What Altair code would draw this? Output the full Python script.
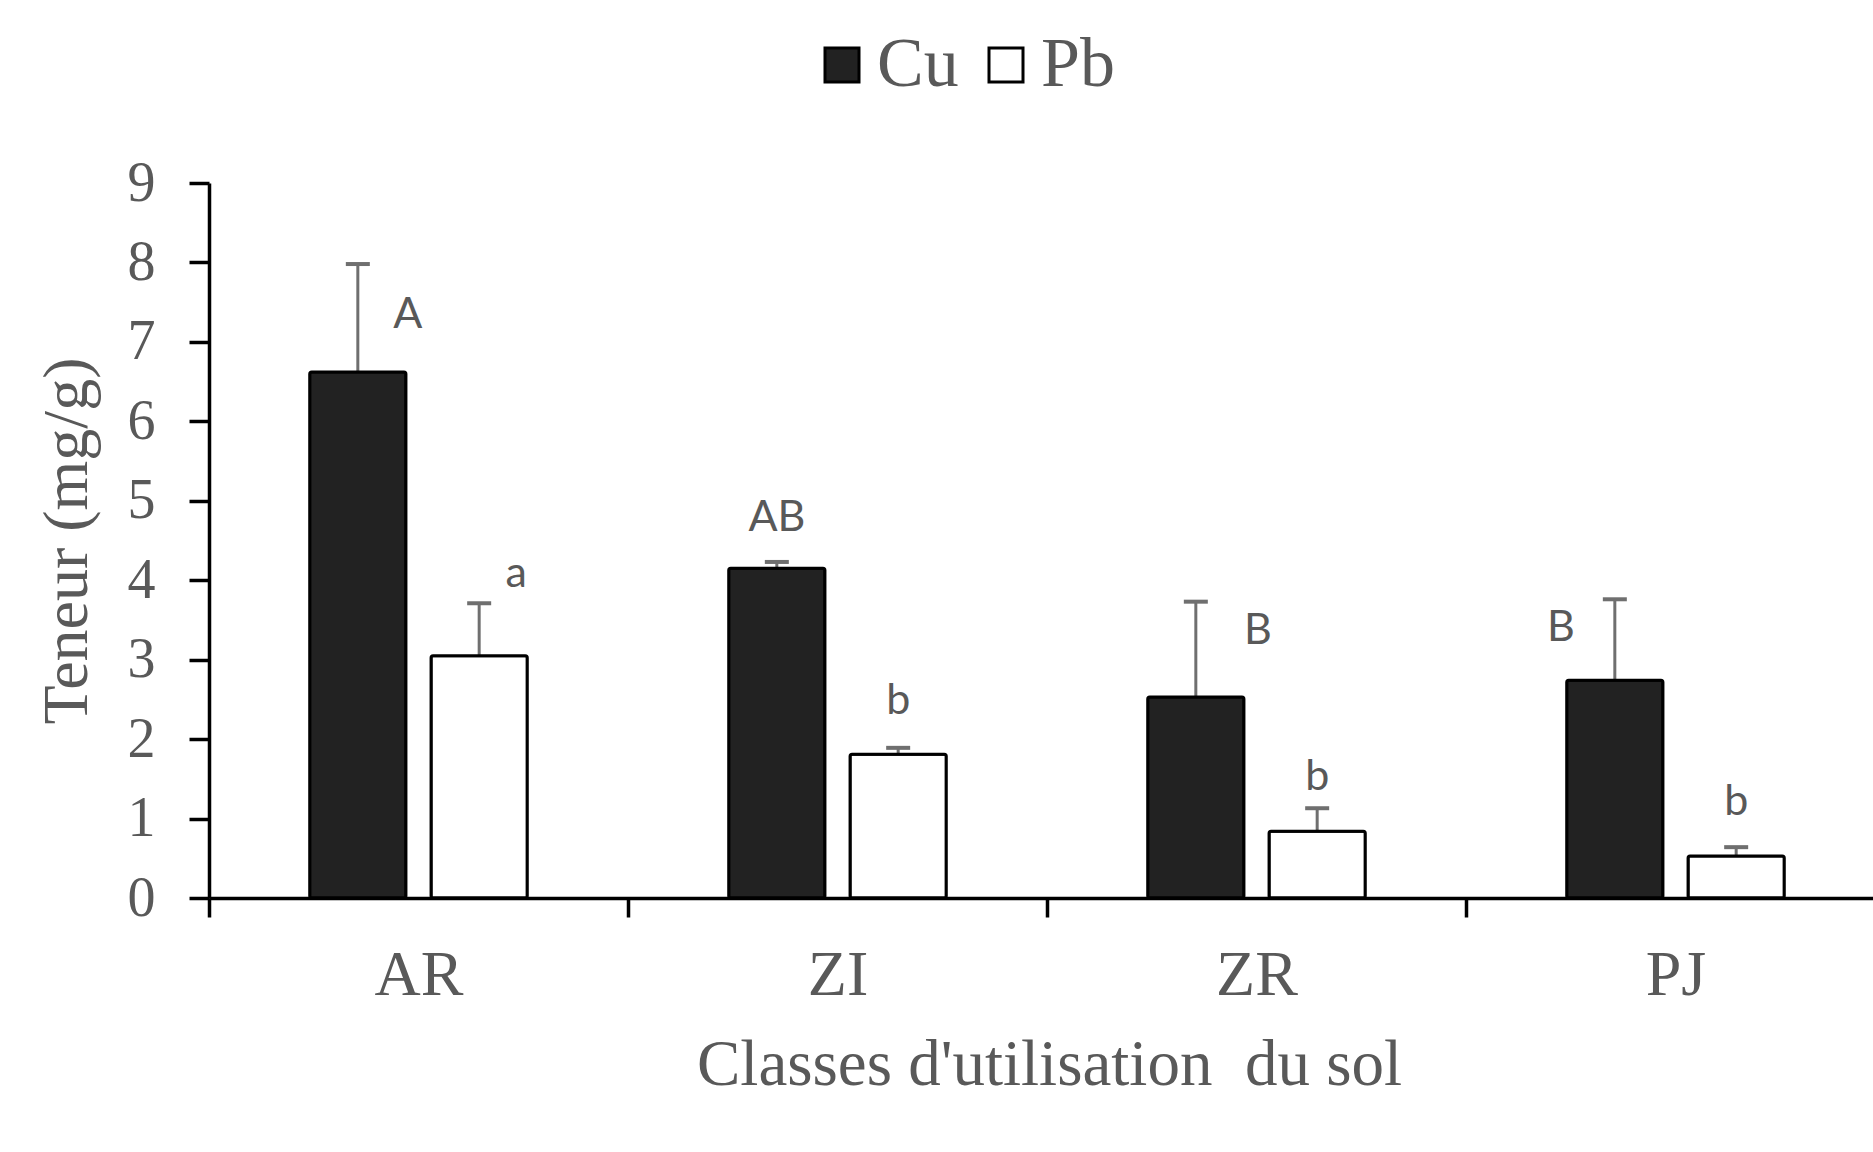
import altair as alt
import pandas as pd

# ---- data ----
categories = ["AR", "ZI", "ZR", "PJ"]
metals = ["Cu", "Pb"]
cu_mean = [6.62, 4.15, 2.53, 2.74]
cu_err_top = [7.98, 4.23, 3.73, 3.76]
pb_mean = [3.05, 1.81, 0.84, 0.53]
pb_err_top = [3.71, 1.89, 1.13, 0.64]
cu_letters = ["A", "AB", "B", "B"]
pb_letters = ["a", "b", "b", "b"]
cu_letter_y = [7.34, 4.78, 3.36, 3.40]
pb_letter_y = [4.08, 2.48, 1.52, 1.21]

# ---- styling (horizontal nudges of the significance letters, px) ----
cu_letter_dx = [50, 0, 62, -54]
pb_letter_dx = [37, 0, 0, 0]

rows = []
for i, c in enumerate(categories):
    rows.append(dict(cat=c, metal="Cu", value=cu_mean[i], top=cu_err_top[i],
                     letter=cu_letters[i], ly=cu_letter_y[i], dx=cu_letter_dx[i]))
    rows.append(dict(cat=c, metal="Pb", value=pb_mean[i], top=pb_err_top[i],
                     letter=pb_letters[i], ly=pb_letter_y[i], dx=pb_letter_dx[i]))
df = pd.DataFrame(rows)

SERIF = "Liberation Serif"
GRAY = "#595959"
ERR = "#6f6f6f"

x_enc = alt.X(
    "cat:N", sort=categories,
    scale=alt.Scale(range=[0, 1676], paddingInner=0, paddingOuter=0),
    axis=alt.Axis(
        title="Classes d'utilisation\u00a0 du sol", labelAngle=0, tickBand="extent",
        domainColor="black", domainWidth=3.5, tickColor="black", tickWidth=3.5, tickSize=19,
        labelFont=SERIF, labelFontSize=64, labelColor=GRAY, labelPadding=26,
        titleFont=SERIF, titleFontSize=65, titleColor=GRAY, titleFontWeight="normal",
        titlePadding=26, titleX=840, grid=False,
    ),
)
xoff_enc = alt.XOffset("metal:N", sort=metals,
                       scale=alt.Scale(paddingInner=0.207, paddingOuter=0.83))
y_scale = alt.Scale(domain=[0, 9], nice=False)
y_axis = alt.Axis(
    title="Teneur (mg/g)", values=list(range(10)), format="d", grid=False,
    domainColor="black", domainWidth=3.5, tickColor="black", tickWidth=3.5, tickSize=20,
    labelFont=SERIF, labelFontSize=56, labelColor=GRAY, labelPadding=34,
    titleFont=SERIF, titleFontSize=64, titleColor=GRAY, titleFontWeight="normal",
    titlePadding=28,
)

base = alt.Chart(df)

rules = base.mark_rule(color=ERR, strokeWidth=3).encode(
    x=x_enc, xOffset=xoff_enc,
    y=alt.Y("value:Q", scale=y_scale, axis=y_axis), y2="top:Q",
)
caps = base.mark_tick(color=ERR, size=24, thickness=4, opacity=1).encode(
    x=x_enc, xOffset=xoff_enc, y=alt.Y("top:Q", scale=y_scale, axis=y_axis),
)
bars = base.mark_bar(stroke="black", strokeWidth=3, cornerRadius=2).encode(
    x=x_enc, xOffset=xoff_enc,
    y=alt.Y("value:Q", scale=y_scale, axis=y_axis),
    fill=alt.Fill(
        "metal:N", sort=metals,
        scale=alt.Scale(domain=metals, range=["#222222", "#ffffff"]),
        legend=alt.Legend(
            title=None, orient="none", legendX=598, legendY=-153,
            direction="horizontal", symbolType="square", symbolSize=1156,
            symbolStrokeColor="black", symbolStrokeWidth=3, symbolOpacity=1,
            labelFont=SERIF, labelFontSize=70, labelColor=GRAY,
            labelOffset=0, columnPadding=12, padding=0,
        ),
    ),
)

texts = []
for i, r in df.iterrows():
    t = alt.Chart(df.iloc[[i]]).mark_text(
        font="Lato", fontSize=43, color=GRAY, baseline="middle", align="center", dx=int(r["dx"])
    ).encode(
        x=x_enc, xOffset=xoff_enc, y=alt.Y("ly:Q", scale=y_scale, axis=y_axis), text="letter:N"
    )
    texts.append(t)

chart = alt.layer(rules, caps, bars, *texts).properties(
    width=1664, height=715,
    padding={"left": 209, "top": 183, "right": 0, "bottom": 254},
    autosize=alt.AutoSizeParams(type="none"),
    background="white",
).configure_view(stroke=None).configure_axis(grid=False)

chart.save("out.html", embed_options={"renderer": "svg", "actions": False})
